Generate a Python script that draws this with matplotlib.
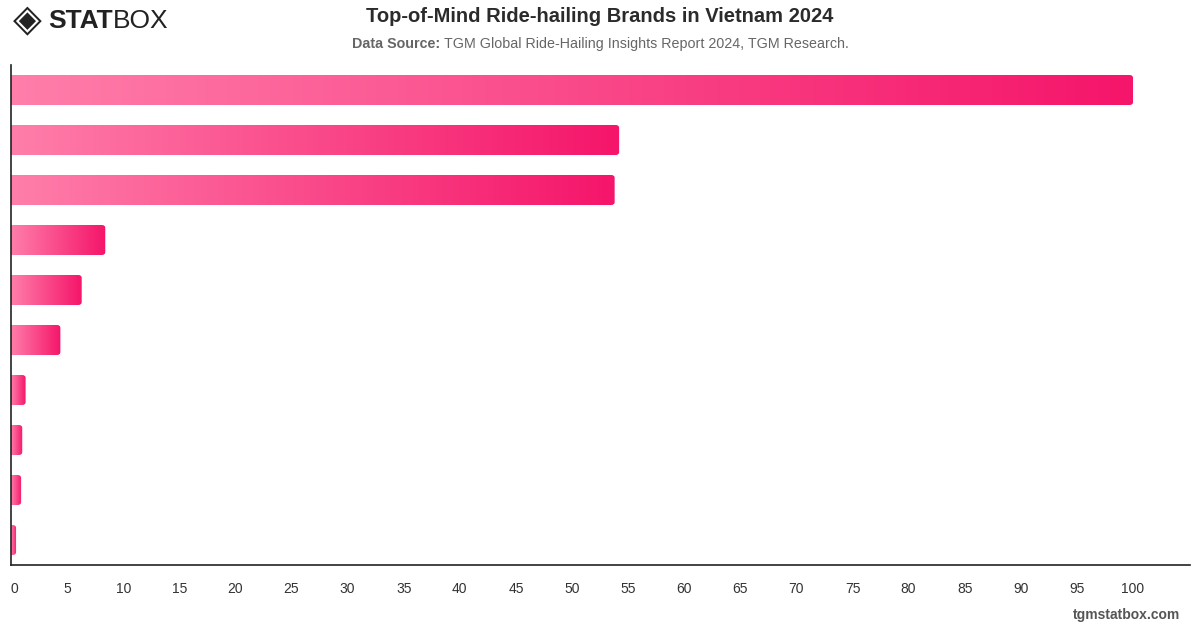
import numpy as np
import matplotlib.pyplot as plt
import matplotlib.transforms as mtrans
from matplotlib.patches import FancyBboxPatch
from matplotlib.colors import LinearSegmentedColormap

# brands are not labelled in the chart, only the values
brands = ['Brand 1', 'Brand 2', 'Brand 3', 'Brand 4', 'Brand 5',
          'Brand 6', 'Brand 7', 'Brand 8', 'Brand 9', 'Brand 10']
values = [100, 54.2, 53.8, 8.4, 6.3, 4.4, 1.3, 1.0, 0.9, 0.45]
xticks = list(range(0, 101, 5))

plt.rcParams['font.family'] = ['Liberation Sans', 'DejaVu Sans']

W, H = 1200, 628
fig = plt.figure(figsize=(12, 6.28), dpi=100)
ax = fig.add_axes([11 / W, 1 - 565 / H, (1190 - 11) / W, 500 / H])

cmap = LinearSegmentedColormap.from_list('pink', ['#ff7eaa', '#f5156a'])
grad = np.linspace(0, 1, 256).reshape(1, -1)

n = len(values)
bar_h = 0.6
for i, v in enumerate(values):
    y0 = i - bar_h / 2
    # rounded right end; box starts left of the axis so the left side is clipped square
    box = FancyBboxPatch((-2, y0), v + 2, bar_h,
                         boxstyle='round,pad=0,rounding_size=0.3',
                         mutation_aspect=0.2, facecolor='none',
                         edgecolor='none', transform=ax.transData)
    ax.add_patch(box)
    im = ax.imshow(grad, cmap=cmap, aspect='auto',
                   extent=(0, v, y0 + bar_h, y0), interpolation='bilinear')
    im.set_clip_path(box)

ax.set_xlim(0, 105.08)
ax.set_ylim(n - 0.5, -0.5)
ax.set_xticks(xticks)
ax.set_xticklabels([str(t) for t in xticks], fontsize=10, color='#333333')
ax.tick_params(axis='x', length=0, pad=12)
# first label is pushed inside like in the original
first = ax.get_xticklabels()[0]
first.set_transform(first.get_transform() +
                    mtrans.ScaledTranslation(3 / 100, 0, fig.dpi_scale_trans))
ax.set_yticks([])
for s in ['top', 'right']:
    ax.spines[s].set_visible(False)
ax.spines['left'].set_color('#222222')
ax.spines['bottom'].set_color('#222222')
ax.spines['left'].set_linewidth(1.2)
ax.spines['bottom'].set_linewidth(1.2)

# title and source line
fig.text(600 / W, 1 - 17 / H, 'Top-of-Mind Ride-hailing Brands in Vietnam 2024',
         ha='center', va='center', fontsize=14.5, fontweight='bold', color='#2b2b2b')
t1 = fig.text(0, 1 - 44 / H, 'Data Source: ', ha='left', va='center',
              fontsize=10.3, fontweight='bold', color='#666666')
t1b = fig.text(0, 1 - 44 / H,
               'TGM Global Ride-Hailing Insights Report 2024, TGM Research.',
               ha='left', va='center', fontsize=10.3, color='#666666')
fig.canvas.draw()
w1 = t1.get_window_extent().width
w2 = t1b.get_window_extent().width
start = 600 - (w1 + w2) / 2
t1.set_x(start / W)
t1b.set_x((start + w1) / W)

# watermark
fig.text(1180 / W, 1 - 615 / H, 'tgmstatbox.com', ha='right', va='center',
         fontsize=10, fontweight='bold', color='#555555')

# logo
fig.text(13 / W, 1 - 21 / H, '\u25C8', ha='left', va='center', fontsize=27,
         color='#222222', family=['DejaVu Sans'])
t2 = fig.text(48 / W, 1 - 21 / H, 'STAT', ha='left', va='center', fontsize=19,
              fontweight='heavy', color='#222222')
fig.canvas.draw()
bb2 = t2.get_window_extent()
fig.text(bb2.x1 / W, 1 - 21 / H, 'BOX', ha='left', va='center', fontsize=19,
         fontweight='light', color='#222222')

fig.savefig('out.png', dpi=100)
